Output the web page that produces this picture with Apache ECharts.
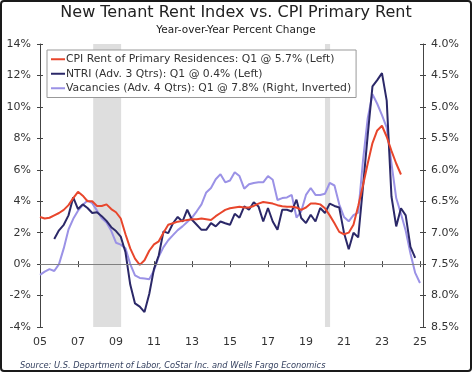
<!DOCTYPE html>
<html>
<head>
<meta charset="utf-8">
<script src="https://cdn.jsdelivr.net/npm/echarts@6/dist/echarts.min.js"></script>
<style>
html,body{margin:0;padding:0;background:#fff;}
#chart{width:472px;height:372px;}
</style>
</head>
<body>
<div id="chart"></div>
<script>
// ---- Data (quarterly, x in fractional years as plotted) ----
const quarterStep = 0.25;
const cpiStart = 2005.0;
const ntriStart = 2005.75;   // advanced 3 quarters
const vacStart = 2005.0;     // advanced 4 quarters

const cpiValues = [3.0, 2.9, 2.95, 3.1, 3.25, 3.45, 3.75, 4.2, 4.6, 4.35,
  4.0, 4.0, 3.7, 3.7, 3.8, 3.5, 3.3, 2.9, 1.9, 1.0,
  0.35, -0.05, 0.25, 0.85, 1.25, 1.45, 2.0, 2.5, 2.6, 2.7,
  2.75, 2.8, 2.85, 2.85, 2.9, 2.85, 2.8, 3.05, 3.25, 3.45,
  3.55, 3.6, 3.65, 3.6, 3.6, 3.7, 3.85, 3.95, 3.9, 3.85,
  3.75, 3.68, 3.65, 3.65, 3.6, 3.45, 3.6, 3.85, 3.85, 3.8,
  3.55, 3.1, 2.6, 2.05, 1.9, 2.0, 2.5, 3.7, 5.0, 6.4,
  7.7, 8.5, 8.8, 8.1, 7.2, 6.4, 5.7];

const ntriValues = [1.6, 2.15, 2.5, 3.1, 4.25, 3.5, 3.8, 3.57, 3.25, 3.3,
  3.05, 2.75, 2.35, 2.1, 1.75, 0.75, -1.3, -2.5, -2.7, -3.05,
  -1.9, -0.3, 0.55, 2.08, 1.97, 2.6, 3.0, 2.71, 3.46, 2.82,
  2.5, 2.18, 2.18, 2.61, 2.4, 2.71, 2.6, 2.5, 3.2, 2.95,
  3.67, 3.46, 3.93, 3.67, 2.71, 3.57, 2.71, 2.18, 3.46, 3.46,
  3.35, 4.1, 2.93, 2.61, 3.14, 2.71, 3.57, 3.25, 3.85, 3.7,
  3.6, 2.0, 0.95, 2.0, 1.7, 4.9, 8.2, 11.3, 11.7, 12.15,
  10.4, 4.3, 2.4, 3.55, 3.1, 1.1, 0.4];

const vacValues = [7.67, 7.62, 7.58, 7.61, 7.5, 7.25, 6.95, 6.78, 6.65, 6.56,
  6.49, 6.53, 6.65, 6.77, 6.84, 6.97, 7.16, 7.19, 7.25, 7.5,
  7.68, 7.72, 7.73, 7.74, 7.6, 7.38, 7.23, 7.12, 7.04, 6.96,
  6.9, 6.83, 6.76, 6.66, 6.55, 6.36, 6.29, 6.15, 6.07, 6.2,
  6.17, 6.04, 6.1, 6.3, 6.23, 6.21, 6.2, 6.2, 6.1, 6.16,
  6.48, 6.45, 6.44, 6.4, 6.76, 6.66, 6.4, 6.29, 6.4, 6.4,
  6.38, 6.21, 6.25, 6.55, 6.75, 6.82, 6.72, 6.68, 5.86, 5.18,
  4.8, 4.95, 5.13, 5.33, 5.9, 6.45, 6.7, 6.97, 7.33, 7.64, 7.8];

const seriesNames = [
  'CPI Rent of Primary Residences: Q1 @ 5.7% (Left)',
  'NTRI (Adv. 3 Qtrs): Q1 @ 0.4% (Left)',
  'Vacancies (Adv. 4 Qtrs): Q1 @ 7.8% (Right, Inverted)'
];

const recessions = [[2007.8, 2009.27], [2020.0, 2020.27]];

const xTickYears = [2005, 2007, 2009, 2011, 2013, 2015, 2017, 2019, 2021, 2023, 2025];
const xTickLabels = ['05', '07', '09', '11', '13', '15', '17', '19', '21', '23', '25'];

const titleText = 'New Tenant Rent Index vs. CPI Primary Rent';
const subtitleText = 'Year-over-Year Percent Change';
const sourceText = 'Source: U.S. Department of Labor, CoStar Inc. and Wells Fargo Economics';

// ---- Build ----
function toPairs(start, vals) {
  return vals.map((v, i) => [start + i * quarterStep, v]);
}

const FONT = '"DejaVu Sans", Verdana, sans-serif';
const FONT_COND = '"DejaVu Sans Condensed", "DejaVu Sans", sans-serif';
const AXIS_COLOR = '#444';
const LABEL_COLOR = '#333';

const xMin = 2005, xMax = 2025.16;

const xLabelFmt = v => {
  const k = xTickYears.indexOf(Math.round(v * 100) / 100);
  return k >= 0 ? xTickLabels[k] : '';
};

const chart = echarts.init(document.getElementById('chart'), null, {renderer: 'canvas'});

const option = {
  animation: false,
  backgroundColor: '#fff',
  textStyle: {fontFamily: FONT},
  title: [
    {text: titleText, left: 'center', top: 5, padding: 0,
     textStyle: {fontFamily: FONT, fontSize: 16, fontWeight: 'normal', color: '#222'}},
    {text: subtitleText, left: 'center', top: 25, padding: 0,
     textStyle: {fontFamily: FONT, fontSize: 10.5, fontWeight: 'normal', color: '#222'}},
    {text: sourceText, left: 20, top: 361, padding: 0,
     textStyle: {fontFamily: FONT_COND, fontSize: 9.2, fontStyle: 'italic', fontWeight: 'normal', color: '#34405f'}}
  ],
  legend: {
    orient: 'vertical',
    left: 47, top: 50,
    padding: [3, 5, 3, 4],
    itemGap: 2,
    itemWidth: 14, itemHeight: 2,
    icon: 'rect',
    borderColor: '#999', borderWidth: 1,
    backgroundColor: '#fff',
    textStyle: {fontFamily: FONT, fontSize: 10.8, color: '#333', padding: [0,0,0,-4], lineHeight: 12.5},
    data: seriesNames
  },
  grid: {left: 40, right: 49, top: 44, bottom: 45, containLabel: false},
  xAxis: [
    {type: 'value', min: xMin, max: xMax, interval: 2,
     axisLine: {show: true, lineStyle: {color: AXIS_COLOR, width: 1}},
     axisTick: {show: true, length: 3, lineStyle: {color: AXIS_COLOR}},
     axisLabel: {formatter: xLabelFmt, margin: 10, fontSize: 11, color: LABEL_COLOR, fontFamily: FONT},
     splitLine: {show: false}},
    {type: 'value', min: xMin, max: xMax, interval: 2, position: 'bottom',
     axisLine: {show: false},
     axisTick: {show: true, inside: true, length: 3, lineStyle: {color: AXIS_COLOR}},
     axisLabel: {show: false}, splitLine: {show: false}}
  ],
  yAxis: [
    {type: 'value', min: -4, max: 14, interval: 2, position: 'left',
     axisLine: {show: true, lineStyle: {color: AXIS_COLOR}},
     axisTick: {show: true, length: 3, lineStyle: {color: AXIS_COLOR}},
     axisLabel: {formatter: v => v + '%', margin: 9, fontSize: 11, color: LABEL_COLOR, fontFamily: FONT},
     splitLine: {show: false}},
    {type: 'value', min: 4, max: 8.5, interval: 0.5, inverse: true, position: 'right',
     axisLine: {show: true, lineStyle: {color: AXIS_COLOR}},
     axisTick: {show: true, length: 3, lineStyle: {color: AXIS_COLOR}},
     axisLabel: {formatter: v => v.toFixed(1) + '%', margin: 8, fontSize: 11, color: LABEL_COLOR, fontFamily: FONT},
     splitLine: {show: false}},
    {type: 'value', min: -4, max: 14, interval: 2, position: 'left',
     axisLine: {show: false},
     axisTick: {show: true, inside: true, length: 3, lineStyle: {color: AXIS_COLOR}},
     axisLabel: {show: false}, splitLine: {show: false}},
    {type: 'value', min: 4, max: 8.5, interval: 0.5, inverse: true, position: 'right',
     axisLine: {show: false},
     axisTick: {show: true, inside: true, length: 3, lineStyle: {color: AXIS_COLOR}},
     axisLabel: {show: false}, splitLine: {show: false}}
  ],
  series: [
    {name: seriesNames[2], type: 'line', yAxisIndex: 1, data: toPairs(vacStart, vacValues),
     showSymbol: false, symbol: 'none', z: 2,
     lineStyle: {color: '#9b92e6', width: 2}, itemStyle: {color: '#9b92e6'},
     markArea: {silent: true, itemStyle: {color: '#dedede'},
       data: recessions.map(r => [{xAxis: r[0]}, {xAxis: r[1]}])}},
    {name: seriesNames[1], type: 'line', yAxisIndex: 0, data: toPairs(ntriStart, ntriValues),
     showSymbol: false, symbol: 'none', z: 3,
     lineStyle: {color: '#2b2868', width: 2}, itemStyle: {color: '#2b2868'},
     markLine: {silent: true, symbol: 'none', label: {show: false},
       lineStyle: {color: '#808080', width: 1, type: 'solid'},
       data: [{yAxis: 0}]}},
    {name: seriesNames[0], type: 'line', yAxisIndex: 0, data: toPairs(cpiStart, cpiValues),
     showSymbol: false, symbol: 'none', z: 4,
     lineStyle: {color: '#e8462c', width: 2}, itemStyle: {color: '#e8462c'}}
  ],
  graphic: [
    {type: 'rect', z: 100, silent: true,
     shape: {x: 1, y: 1, width: 470, height: 370, r: 3},
     style: {fill: null, stroke: '#1a1a1a', lineWidth: 2}}
  ]
};
chart.setOption(option);
</script>
</body>
</html>
